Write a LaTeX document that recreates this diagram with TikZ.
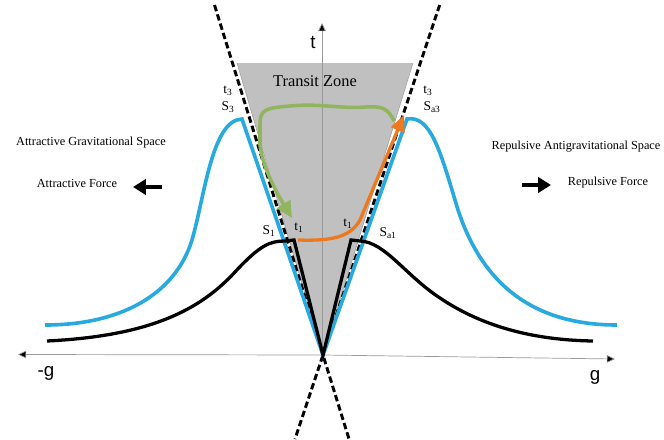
\documentclass[tikz,border=0pt]{standalone}
\usepackage{fontspec}
\setmainfont{Liberation Serif}
\newfontfamily\axisfont{Liberation Sans}
\usetikzlibrary{arrows.meta, positioning, calc}

\definecolor{skyline}{RGB}{40,170,225}
\definecolor{pathgreen}{RGB}{145,180,95}
\definecolor{pathorange}{RGB}{238,120,30}
\definecolor{zonegray}{RGB}{192,192,192}

\begin{document}
\begin{tikzpicture}[
  x=0.03cm, y=-0.03cm,
  >=Stealth,
  axis/.style={draw=black!40, line width=0.6pt},
  axishead/.style={-{Triangle[length=7pt, width=6.5pt, fill=black]}},
  dashline/.style={draw=black, line width=2.5pt, dash pattern=on 5.5pt off 2.8pt},
  bluecurve/.style={draw=skyline, line width=3.1pt, line join=miter},
  blackcurve/.style={draw=black, line width=2.8pt, line join=miter},
  greenpath/.style={draw=pathgreen, line width=3pt, -{Triangle[length=14pt, width=13pt]}},
  orangepath/.style={draw=pathorange, line width=2.8pt, -{Triangle[length=14pt, width=12pt]}},
  forcearrow/.style={draw=black, line width=3.2pt, -{Triangle[length=11pt, width=13pt]}},
  lbl/.style={font=\fontsize{10.5}{12}\selectfont, inner sep=0pt},
  small/.style={font=\fontsize{11.5}{12}\selectfont, inner sep=0pt},
  axlbl/.style={font=\axisfont\fontsize{16}{18}\selectfont, inner sep=0pt}
]
\useasboundingbox (0,0) rectangle (664,439);

% Points
\coordinate (O) at (323,355);
\coordinate (zl) at (237,63);
\coordinate (zr) at (413,63);

% Transit zone
\fill[zonegray] (zl) -- (zr) -- (O) -- cycle;
\draw[black!40, line width=0.4pt] (zl) -- (O) -- (zr);

% Axes
\coordinate (gl) at (18,354.5);
\coordinate (gr) at (615,359);
\coordinate (ttop) at (322,23);
\draw[axis, axishead] (O) -- (gl);
\draw[axis, axishead] (O) -- (gr);
\draw[axis, axishead] (322,355) -- (ttop);

% Light cone lines
\coordinate (dl1) at (214.5,5);
\coordinate (dl2) at (349,439);
\coordinate (dr1) at (439.7,5);
\coordinate (dr2) at (295,439);
\draw[dashline] (dl1) -- (dl2);
\draw[dashline] (dr1) -- (dr2);

% Blue curves (t3)
\draw[bluecurve] (45,325) .. controls (120,325) and (175,295) .. (192,240)
  .. controls (205,195) and (212,120) .. (242,119) -- (O) -- (407,119)
  .. controls (430,115) and (440,150) .. (455,200)
  .. controls (475,270) and (520,325) .. (617,325);

% Black curves (t1)
\draw[blackcurve] (47,341) .. controls (150,336) and (200,310) .. (235,272)
  .. controls (260,245) and (270,241) .. (285,241) -- (294,240) -- (O)
  -- (351,240) -- (360,241)
  .. controls (385,242) and (405,275) .. (440,298)
  .. controls (480,325) and (530,340) .. (593,341);

% Paths through the zone
\draw[greenpath] (394,121) .. controls (388,108) and (382,106) .. (365,107)
  .. controls (340,109) and (320,103) .. (290,106)
  .. controls (264,108) and (260,110) .. (260,125) -- (260,145)
  .. controls (262,165) and (275,190) .. (292,218);
\draw[orangepath] (298,240) .. controls (330,241) and (350,238) .. (360,220) -- (404,115);

% Labels
\node[axlbl] (tl) at (313,43) {t};
\node[axlbl] (gneg) at (46,373) {-g};
\node[axlbl] (gpos) at (595,377) {g};
\node[font=\fontsize{14}{16}\selectfont, inner sep=0pt] (zone) at (315,81) {Transit Zone};

\node[small] (t3l) at (228,91) {t\textsubscript{3}};
\node[small] (s3l) at (228,107) {S\textsubscript{3}};
\node[small] (t3r) at (428,91) {t\textsubscript{3}};
\node[small] (s3r) at (432,107) {S\textsubscript{a3}};
\node[small] (s1l) at (269,231) {S\textsubscript{1}};
\node[small] (t1l) at (299,228) {t\textsubscript{1}};
\node[small] (t1r) at (348,224) {t\textsubscript{1}};
\node[small] (s1r) at (388,233) {S\textsubscript{a1}};

\node[lbl] (attspace) at (91,143) {Attractive Gravitational Space};
\node[lbl] (attforce) at (77,183) {Attractive Force};
\node[lbl] (repspace) at (576,147) {Repulsive Antigravitational Space};
\node[lbl] (repforce) at (608,183) {Repulsive Force};

% Force arrows
\coordinate (fl1) at (162,187);
\coordinate (fl2) at (133,187);
\coordinate (fr1) at (522,185);
\coordinate (fr2) at (551,185);
\draw[forcearrow] (fl1) -- (fl2);
\draw[forcearrow] (fr1) -- (fr2);

\end{tikzpicture}
\end{document}
